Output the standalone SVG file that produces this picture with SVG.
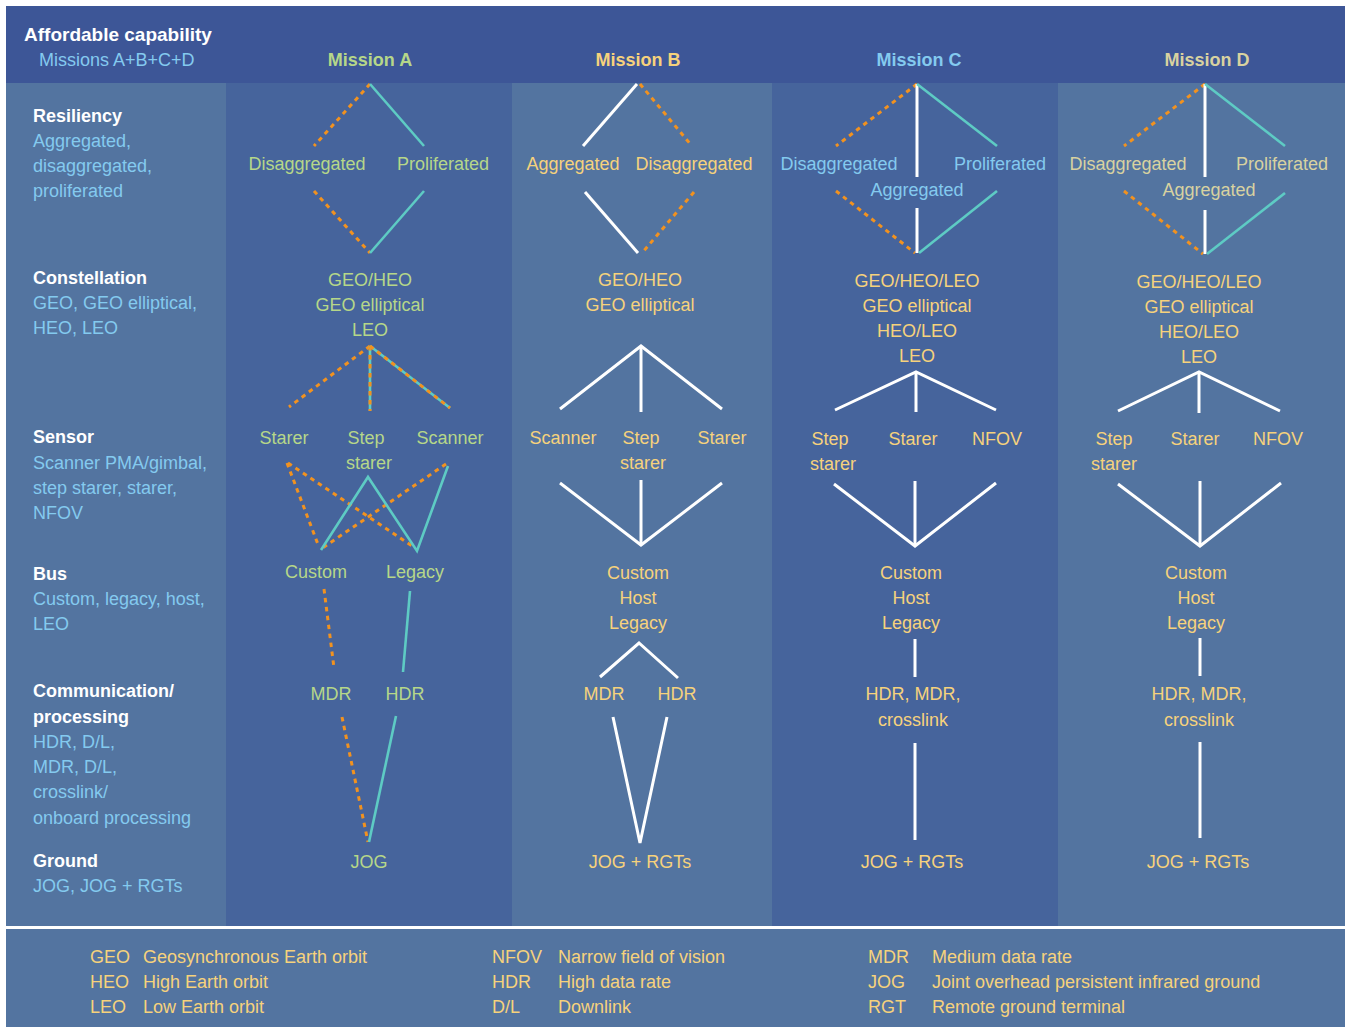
<svg xmlns="http://www.w3.org/2000/svg" width="1345" height="1027" viewBox="0 0 1345 1027">
  <style>
    text { font-family: "Liberation Sans", Arial, sans-serif; font-size: 18px; }
    .b { font-weight: bold; }
    .m { text-anchor: middle; }
    .big { font-size: 19px; }
    .wt { fill: #ffffff; }
    .lb { fill: #84caef; }
    .gr { fill: #b6d789; }
    .yl { fill: #f6d27c; }
    .bg { fill: #d8d2a0; }
    .w { stroke: #ffffff; stroke-width: 3; fill: none; }
    .tl { stroke: #5ecbc4; stroke-width: 2.6; fill: none; }
    .or { stroke: #f2921f; stroke-width: 3; stroke-dasharray: 4.5 4.5; fill: none; }
  </style>

  <!-- panel backgrounds -->
  <g id="panels">
    <rect x="0" y="0" width="1345" height="1027" fill="#ffffff"/>
    <rect x="6" y="6" width="1339" height="77" fill="#3d5697"/>
    <rect x="6" y="83" width="220" height="843" fill="#5374a0"/>
    <rect x="226" y="83" width="286" height="843" fill="#46649c"/>
    <rect x="512" y="83" width="260" height="843" fill="#5374a0"/>
    <rect x="772" y="83" width="286" height="843" fill="#46649c"/>
    <rect x="1058" y="83" width="287" height="843" fill="#5374a0"/>
    <rect x="6" y="929" width="1339" height="98" fill="#5374a0"/>
  </g>

  <!-- header -->
  <g id="header">
    <text x="24" y="41" class="b big wt">Affordable capability</text>
    <text x="39" y="66" class="lb">Missions A+B+C+D</text>
    <text x="370" y="66" class="b m gr">Mission A</text>
    <text x="638" y="66" class="b m yl">Mission B</text>
    <text x="919" y="66" class="b m lb">Mission C</text>
    <text x="1207" y="66" class="b m bg">Mission D</text>
  </g>

  <!-- row categories -->
  <g id="categories">
    <g id="cat-resiliency">
      <text x="33" y="122" class="b wt">Resiliency</text>
      <text x="33" y="147" class="lb">Aggregated,</text>
      <text x="33" y="172" class="lb">disaggregated,</text>
      <text x="33" y="197" class="lb">proliferated</text>
    </g>
    <g id="cat-constellation">
      <text x="33" y="284" class="b wt">Constellation</text>
      <text x="33" y="309" class="lb">GEO, GEO elliptical,</text>
      <text x="33" y="334" class="lb">HEO, LEO</text>
    </g>
    <g id="cat-sensor">
      <text x="33" y="443" class="b wt">Sensor</text>
      <text x="33" y="469" class="lb">Scanner PMA/gimbal,</text>
      <text x="33" y="494" class="lb">step starer, starer,</text>
      <text x="33" y="519" class="lb">NFOV</text>
    </g>
    <g id="cat-bus">
      <text x="33" y="580" class="b wt">Bus</text>
      <text x="33" y="605" class="lb">Custom, legacy, host,</text>
      <text x="33" y="630" class="lb">LEO</text>
    </g>
    <g id="cat-comm">
      <text x="33" y="697" class="b wt">Communication/</text>
      <text x="33" y="723" class="b wt">processing</text>
      <text x="33" y="748" class="lb">HDR, D/L,</text>
      <text x="33" y="773" class="lb">MDR, D/L,</text>
      <text x="33" y="798" class="lb">crosslink/</text>
      <text x="33" y="824" class="lb">onboard processing</text>
    </g>
    <g id="cat-ground">
      <text x="33" y="867" class="b wt">Ground</text>
      <text x="33" y="892" class="lb">JOG, JOG + RGTs</text>
    </g>
  </g>

  <!-- connectors -->
  <g id="connectors">
    <!-- Mission A -->
    <line class="or" x1="370" y1="84" x2="314" y2="146"/>
    <line class="tl" x1="370" y1="84" x2="424" y2="146"/>
    <line class="or" x1="314" y1="191" x2="370" y2="253"/>
    <line class="tl" x1="424" y1="191" x2="370" y2="253"/>
    <line class="or" x1="370" y1="346" x2="289" y2="407"/>
    <line class="tl" x1="370" y1="346" x2="370" y2="411"/>
    <line class="or" x1="370" y1="346" x2="370" y2="411"/>
    <line class="tl" x1="370" y1="346" x2="450" y2="408"/>
    <line class="or" x1="370" y1="346" x2="450" y2="408"/>
    <line class="or" x1="287" y1="463" x2="319" y2="547"/>
    <line class="or" x1="288" y1="463" x2="415" y2="548"/>
    <line class="or" x1="446" y1="464" x2="321" y2="549"/>
    <polyline class="tl" points="321,550 368,477 417,551 448,466"/>
    <line class="or" x1="324" y1="589" x2="334" y2="668"/>
    <line class="tl" x1="410" y1="591" x2="403" y2="672"/>
    <line class="or" x1="342" y1="717" x2="368" y2="842"/>
    <line class="tl" x1="396" y1="716" x2="369" y2="842"/>

    <!-- Mission B -->
    <line class="w" x1="637" y1="84" x2="583" y2="146"/>
    <line class="or" x1="640" y1="84" x2="692" y2="146"/>
    <line class="w" x1="585" y1="192" x2="638" y2="253"/>
    <line class="or" x1="694" y1="192" x2="642" y2="253"/>
    <polyline class="w" points="560,409 641,346 722,409"/>
    <line class="w" x1="641" y1="346" x2="641" y2="412"/>
    <polyline class="w" points="560,483 641,545 722,483"/>
    <line class="w" x1="641" y1="480" x2="641" y2="545"/>
    <polyline class="w" points="600,677 639,643 678,678"/>
    <polyline class="w" points="613,717 640,843 667,717"/>

    <!-- Mission C -->
    <line class="or" x1="917" y1="84" x2="836" y2="146"/>
    <line class="w" x1="917" y1="84" x2="917" y2="177"/>
    <line class="tl" x1="917" y1="84" x2="997" y2="146"/>
    <line class="or" x1="836" y1="191" x2="915" y2="253"/>
    <line class="w" x1="917" y1="208" x2="917" y2="253"/>
    <line class="tl" x1="997" y1="191" x2="919" y2="253"/>
    <polyline class="w" points="835,410 916,372 996,410"/>
    <line class="w" x1="916" y1="372" x2="916" y2="412"/>
    <polyline class="w" points="834,484 915,546 996,483"/>
    <line class="w" x1="915" y1="481" x2="915" y2="546"/>
    <line class="w" x1="915" y1="639" x2="915" y2="677"/>
    <line class="w" x1="915" y1="743" x2="915" y2="840"/>

    <!-- Mission D -->
    <line class="or" x1="1205" y1="84" x2="1124" y2="146"/>
    <line class="w" x1="1205" y1="84" x2="1205" y2="177"/>
    <line class="tl" x1="1205" y1="84" x2="1285" y2="146"/>
    <line class="or" x1="1124" y1="191" x2="1203" y2="254"/>
    <line class="w" x1="1205" y1="210" x2="1205" y2="254"/>
    <line class="tl" x1="1285" y1="193" x2="1207" y2="254"/>
    <polyline class="w" points="1118,411 1199,372 1280,411"/>
    <line class="w" x1="1199" y1="372" x2="1199" y2="413"/>
    <polyline class="w" points="1118,484 1200,546 1281,483"/>
    <line class="w" x1="1200" y1="481" x2="1200" y2="546"/>
    <line class="w" x1="1200" y1="638" x2="1200" y2="676"/>
    <line class="w" x1="1200" y1="742" x2="1200" y2="838"/>
  </g>

  <!-- Mission A nodes -->
  <g id="mission-a">
    <g id="a-disaggregated"><text x="307" y="170" class="m gr">Disaggregated</text></g>
    <g id="a-proliferated"><text x="443" y="170" class="m gr">Proliferated</text></g>
    <g id="a-constellation">
      <text x="370" y="286" class="m gr">GEO/HEO</text>
      <text x="370" y="311" class="m gr">GEO elliptical</text>
      <text x="370" y="336" class="m gr">LEO</text>
    </g>
    <g id="a-starer"><text x="284" y="444" class="m gr">Starer</text></g>
    <g id="a-step-starer">
      <text x="366" y="444" class="m gr">Step</text>
      <text x="369" y="469" class="m gr">starer</text>
    </g>
    <g id="a-scanner"><text x="450" y="444" class="m gr">Scanner</text></g>
    <g id="a-custom"><text x="316" y="578" class="m gr">Custom</text></g>
    <g id="a-legacy"><text x="415" y="578" class="m gr">Legacy</text></g>
    <g id="a-mdr"><text x="331" y="700" class="m gr">MDR</text></g>
    <g id="a-hdr"><text x="405" y="700" class="m gr">HDR</text></g>
    <g id="a-jog"><text x="369" y="868" class="m gr">JOG</text></g>
  </g>

  <!-- Mission B nodes -->
  <g id="mission-b">
    <g id="b-aggregated"><text x="573" y="170" class="m yl">Aggregated</text></g>
    <g id="b-disaggregated"><text x="694" y="170" class="m yl">Disaggregated</text></g>
    <g id="b-constellation">
      <text x="640" y="286" class="m yl">GEO/HEO</text>
      <text x="640" y="311" class="m yl">GEO elliptical</text>
    </g>
    <g id="b-scanner"><text x="563" y="444" class="m yl">Scanner</text></g>
    <g id="b-step-starer">
      <text x="641" y="444" class="m yl">Step</text>
      <text x="643" y="469" class="m yl">starer</text>
    </g>
    <g id="b-starer"><text x="722" y="444" class="m yl">Starer</text></g>
    <g id="b-bus">
      <text x="638" y="579" class="m yl">Custom</text>
      <text x="638" y="604" class="m yl">Host</text>
      <text x="638" y="629" class="m yl">Legacy</text>
    </g>
    <g id="b-mdr"><text x="604" y="700" class="m yl">MDR</text></g>
    <g id="b-hdr"><text x="677" y="700" class="m yl">HDR</text></g>
    <g id="b-ground"><text x="640" y="868" class="m yl">JOG + RGTs</text></g>
  </g>

  <!-- Mission C nodes -->
  <g id="mission-c">
    <g id="c-disaggregated"><text x="839" y="170" class="m lb">Disaggregated</text></g>
    <g id="c-proliferated"><text x="1000" y="170" class="m lb">Proliferated</text></g>
    <g id="c-aggregated"><text x="917" y="196" class="m lb">Aggregated</text></g>
    <g id="c-constellation">
      <text x="917" y="287" class="m yl">GEO/HEO/LEO</text>
      <text x="917" y="312" class="m yl">GEO elliptical</text>
      <text x="917" y="337" class="m yl">HEO/LEO</text>
      <text x="917" y="362" class="m yl">LEO</text>
    </g>
    <g id="c-step-starer">
      <text x="830" y="445" class="m yl">Step</text>
      <text x="833" y="470" class="m yl">starer</text>
    </g>
    <g id="c-starer"><text x="913" y="445" class="m yl">Starer</text></g>
    <g id="c-nfov"><text x="997" y="445" class="m yl">NFOV</text></g>
    <g id="c-bus">
      <text x="911" y="579" class="m yl">Custom</text>
      <text x="911" y="604" class="m yl">Host</text>
      <text x="911" y="629" class="m yl">Legacy</text>
    </g>
    <g id="c-comm">
      <text x="913" y="700" class="m yl">HDR, MDR,</text>
      <text x="913" y="726" class="m yl">crosslink</text>
    </g>
    <g id="c-ground"><text x="912" y="868" class="m yl">JOG + RGTs</text></g>
  </g>

  <!-- Mission D nodes -->
  <g id="mission-d">
    <g id="d-disaggregated"><text x="1128" y="170" class="m bg">Disaggregated</text></g>
    <g id="d-proliferated"><text x="1282" y="170" class="m bg">Proliferated</text></g>
    <g id="d-aggregated"><text x="1209" y="196" class="m bg">Aggregated</text></g>
    <g id="d-constellation">
      <text x="1199" y="288" class="m yl">GEO/HEO/LEO</text>
      <text x="1199" y="313" class="m yl">GEO elliptical</text>
      <text x="1199" y="338" class="m yl">HEO/LEO</text>
      <text x="1199" y="363" class="m yl">LEO</text>
    </g>
    <g id="d-step-starer">
      <text x="1114" y="445" class="m yl">Step</text>
      <text x="1114" y="470" class="m yl">starer</text>
    </g>
    <g id="d-starer"><text x="1195" y="445" class="m yl">Starer</text></g>
    <g id="d-nfov"><text x="1278" y="445" class="m yl">NFOV</text></g>
    <g id="d-bus">
      <text x="1196" y="579" class="m yl">Custom</text>
      <text x="1196" y="604" class="m yl">Host</text>
      <text x="1196" y="629" class="m yl">Legacy</text>
    </g>
    <g id="d-comm">
      <text x="1199" y="700" class="m yl">HDR, MDR,</text>
      <text x="1199" y="726" class="m yl">crosslink</text>
    </g>
    <g id="d-ground"><text x="1198" y="868" class="m yl">JOG + RGTs</text></g>
  </g>

  <!-- abbreviations -->
  <g id="legend" class="yl">
    <text x="90" y="963" class="yl">GEO</text>
    <text x="143" y="963" class="yl">Geosynchronous Earth orbit</text>
    <text x="90" y="988" class="yl">HEO</text>
    <text x="143" y="988" class="yl">High Earth orbit</text>
    <text x="90" y="1013" class="yl">LEO</text>
    <text x="143" y="1013" class="yl">Low Earth orbit</text>
    <text x="492" y="963" class="yl">NFOV</text>
    <text x="558" y="963" class="yl">Narrow field of vision</text>
    <text x="492" y="988" class="yl">HDR</text>
    <text x="558" y="988" class="yl">High data rate</text>
    <text x="492" y="1013" class="yl">D/L</text>
    <text x="558" y="1013" class="yl">Downlink</text>
    <text x="868" y="963" class="yl">MDR</text>
    <text x="932" y="963" class="yl">Medium data rate</text>
    <text x="868" y="988" class="yl">JOG</text>
    <text x="932" y="988" class="yl">Joint overhead persistent infrared ground</text>
    <text x="868" y="1013" class="yl">RGT</text>
    <text x="932" y="1013" class="yl">Remote ground terminal</text>
  </g>
</svg>
